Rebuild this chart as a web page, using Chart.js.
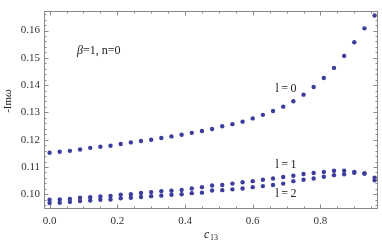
<!DOCTYPE html>
<html>
<head>
<meta charset="utf-8">
<script src="https://cdn.jsdelivr.net/npm/chart.js@4"></script>
<style>html,body{margin:0;padding:0;background:#fff}canvas{display:block}</style>
</head>
<body>
<canvas id="c" width="382" height="247"></canvas>
<script>
const c13 = [0,0.03,0.06,0.09,0.12,0.15,0.18,0.21,0.24,0.27,0.30,0.33,0.36,0.39,0.42,0.45,0.48,0.51,0.54,0.57,0.60,0.63,0.66,0.69,0.72,0.75,0.78,0.81,0.84,0.87,0.90,0.93,0.96];
const l0 = [0.1152,0.1156,0.1159,0.1164,0.1170,0.1174,0.1178,0.1184,0.1190,0.1195,0.1200,0.1206,0.1212,0.1218,0.1225,0.1232,0.1239,0.1249,0.1257,0.1266,0.1278,0.1291,0.1305,0.1321,0.1341,0.1365,0.1393,0.1426,0.1463,0.1507,0.1557,0.1608,0.1655];
const l1 = [0.0980,0.0981,0.0983,0.0987,0.0989,0.0992,0.0994,0.0998,0.1000,0.1005,0.1008,0.1011,0.1013,0.1016,0.1021,0.1026,0.1032,0.1034,0.1039,0.1044,0.1048,0.1053,0.1058,0.1063,0.1068,0.1074,0.1078,0.1082,0.1086,0.1086,0.1082,0.1076,0.1061];
const l2 = [0.0968,0.0969,0.0972,0.0975,0.0977,0.0980,0.0981,0.0985,0.0987,0.0990,0.0993,0.0995,0.0998,0.1000,0.1004,0.1006,0.1014,0.1015,0.1018,0.1021,0.1026,0.1030,0.1034,0.1039,0.1048,0.1053,0.1058,0.1064,0.1070,0.1073,0.1079,0.1076,0.1051];
const xTicks = [0.0,0.2,0.4,0.6,0.8];
const yTicks = [0.10,0.11,0.12,0.13,0.14,0.15,0.16];
const xMinor = [0.05,0.1,0.15,0.25,0.3,0.35,0.45,0.5,0.55,0.65,0.7,0.75,0.85,0.9,0.95];
const seriesLabels = ['l\u2009=\u20090','l\u2009=\u20091','l\u2009=\u20092'];

const dotColor = '#3d3d9e';
const serif = '"Liberation Serif", "DejaVu Serif", serif';

function pts(ys){ return c13.map((x,i)=>({x:x,y:ys[i]})); }

const framePlugin = {
  id:'frame',
  afterDraw(chart){
    const ctx = chart.ctx, a = chart.chartArea;
    const xs = chart.scales.x, ys = chart.scales.y;
    ctx.save();
    ctx.strokeStyle = '#8a8a8a';
    ctx.lineWidth = 1;
    ctx.strokeRect(Math.round(a.left)+0.5, Math.round(a.top)+0.5, Math.round(a.right-a.left)-1, Math.round(a.bottom-a.top)-1);
    ctx.beginPath();
    const L = Math.round(a.left)+0.5, R = Math.round(a.right)-0.5, T = Math.round(a.top)+0.5, B = Math.round(a.bottom)-0.5;
    xTicks.forEach(v=>{ const p=Math.round(xs.getPixelForValue(v))+0.5; ctx.moveTo(p,B); ctx.lineTo(p,B-4); ctx.moveTo(p,T); ctx.lineTo(p,T+4);});
    xMinor.forEach(v=>{ const p=Math.round(xs.getPixelForValue(v))+0.5; ctx.moveTo(p,B); ctx.lineTo(p,B-2); ctx.moveTo(p,T); ctx.lineTo(p,T+2);});
    for(let k=0;k<=40;k++){
      const v = 0.094 + k*0.002;
      if (v < ys.min || v > ys.max) continue;
      const major = Math.abs((v*100) - Math.round(v*100)) < 1e-6;
      const p=Math.round(ys.getPixelForValue(v))+0.5;
      const len = major?4:2;
      ctx.moveTo(L,p); ctx.lineTo(L+len,p); ctx.moveTo(R,p); ctx.lineTo(R-len,p);
    }
    ctx.stroke();

    ctx.fillStyle = '#222';
    ctx.textBaseline = 'middle';
    ctx.textAlign = 'left';
    ctx.font = 'italic 12px ' + serif;
    let x0 = 77;
    ctx.fillText('\u03b2', x0, 51);
    x0 += ctx.measureText('\u03b2').width;
    ctx.font = '12px ' + serif;
    ctx.fillText('=1, n=0', x0, 51);
    ctx.textAlign = 'center';
    ctx.font = '12px ' + serif;
    ctx.fillText(seriesLabels[0], 286, 88.5);
    ctx.fillText(seriesLabels[1], 286, 165);
    ctx.fillText(seriesLabels[2], 286, 193.5);
    ctx.textAlign = 'left';
    ctx.font = 'italic 12px ' + serif;
    ctx.fillText('c', 204, 235);
    ctx.font = '8px ' + serif;
    ctx.fillText('13', 210, 238);
    ctx.save();
    ctx.translate(8, 101);
    ctx.rotate(-Math.PI/2);
    const t1 = '-Im';
    ctx.font = '11px ' + serif;
    const w1 = ctx.measureText(t1).width;
    ctx.font = 'italic 11px ' + serif;
    const w2 = ctx.measureText('\u03c9').width;
    const sx = -(w1+w2)/2;
    ctx.textAlign='left';
    ctx.font = '11px ' + serif;
    ctx.fillText(t1, sx, 0);
    ctx.font = 'italic 11px ' + serif;
    ctx.fillText('\u03c9', sx+w1, 0);
    ctx.restore();
    ctx.restore();
  }
};

new Chart(document.getElementById('c'), {
  type:'scatter',
  data:{ datasets:[
    {label:seriesLabels[0], data:pts(l0), backgroundColor:dotColor, borderColor:dotColor, pointRadius:2.2, borderWidth:0},
    {label:seriesLabels[1], data:pts(l1), backgroundColor:dotColor, borderColor:dotColor, pointRadius:2.2, borderWidth:0},
    {label:seriesLabels[2], data:pts(l2), backgroundColor:dotColor, borderColor:dotColor, pointRadius:2.2, borderWidth:0}
  ]},
  options:{
    responsive:false, animation:false, devicePixelRatio:1,
    layout:{padding:{left:0,top:2,right:4,bottom:0}},
    plugins:{legend:{display:false}, tooltip:{enabled:false}},
    scales:{
      x:{type:'linear', min:-0.0165, max:0.97,
        grid:{display:false, drawTicks:false}, border:{display:false},
        afterBuildTicks:s=>{ s.ticks = xTicks.map(v=>({value:v})); },
        afterFit:s=>{ s.height = 38; },
        ticks:{padding:6, color:'#333', font:{family:serif, size:11}, maxRotation:0, autoSkip:false, callback:v=>Number(v).toFixed(1)}
      },
      y:{type:'linear', min:0.0946, max:0.1673,
        grid:{display:false, drawTicks:false}, border:{display:false},
        afterBuildTicks:s=>{ s.ticks = yTicks.map(v=>({value:v})); },
        afterFit:s=>{ s.width = 44; },
        ticks:{padding:4, color:'#333', font:{family:serif, size:11}, autoSkip:false, callback:v=>Number(v).toFixed(2)}
      }
    }
  },
  plugins:[framePlugin]
});
</script>
</body>
</html>
